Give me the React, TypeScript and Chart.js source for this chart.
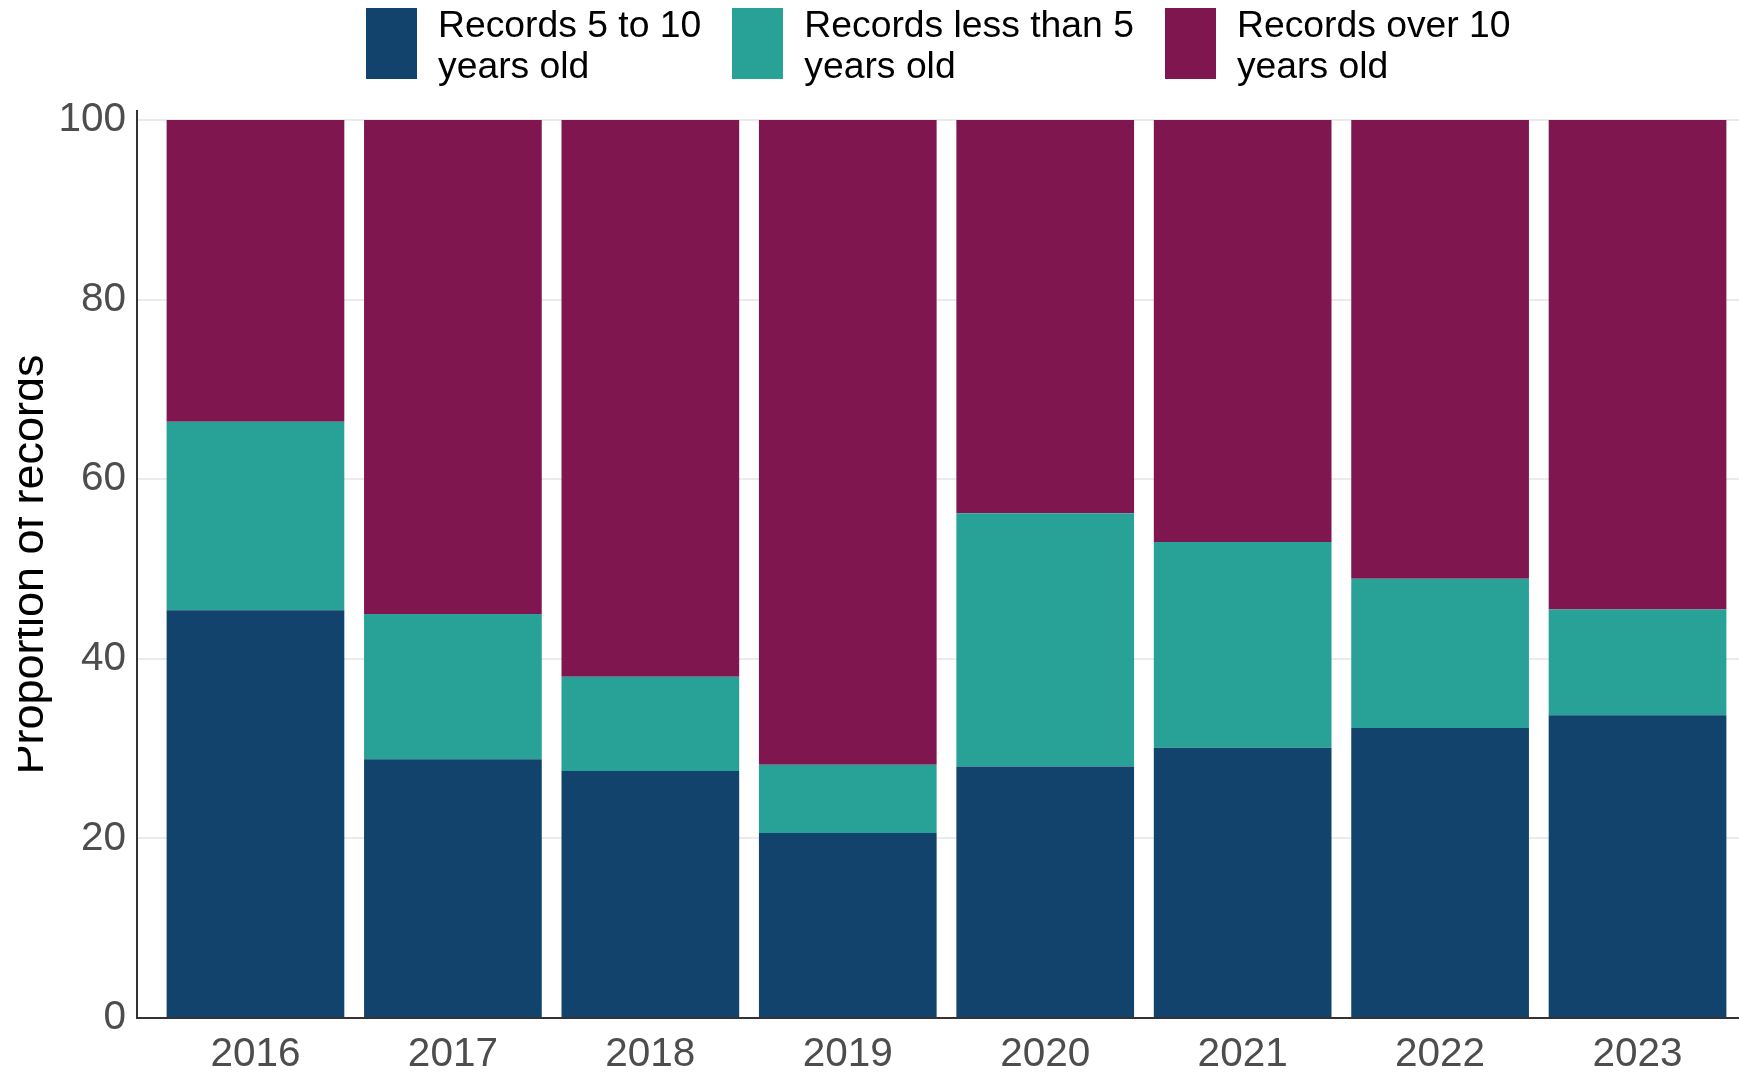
import React, { useEffect, useRef } from "react";
import { Chart, registerables } from "chart.js";

Chart.register(...registerables);

// ---- Data ----
const years = ["2016", "2017", "2018", "2019", "2020", "2021", "2022", "2023"];
const records5to10 = [45.4, 28.8, 27.5, 20.6, 28.0, 30.1, 32.3, 33.7];
const recordsUnder5 = [21.0, 16.2, 10.5, 7.6, 28.2, 22.9, 16.6, 11.8];
const recordsOver10 = [33.6, 55.0, 62.0, 71.8, 43.8, 47.0, 51.1, 54.5];
const yTickValues = [0, 20, 40, 60, 80, 100];

const seriesNames = ["Records 5 to 10 years old", "Records less than 5 years old", "Records over 10 years old"];
const seriesLegendLines = [
  ["Records 5 to 10", "years old"],
  ["Records less than 5", "years old"],
  ["Records over 10", "years old"],
];
const seriesColors = ["#12436D", "#28A197", "#801650"];
const seriesValues = [records5to10, recordsUnder5, recordsOver10];

const FONT = "'Liberation Sans', Arial, Helvetica, sans-serif";

export default function App() {
  const canvasRef = useRef<HTMLCanvasElement | null>(null);

  useEffect(() => {
    if (!canvasRef.current) return;
    const chart = new Chart(canvasRef.current, {
      type: "bar",
      data: {
        datasets: seriesValues.map((vals, si) => ({
          label: seriesNames[si],
          data: vals.map((v, i) => ({ x: i + 1, y: v })),
          backgroundColor: seriesColors[si],
          borderWidth: 0,
          categoryPercentage: 1,
          barPercentage: 0.9,
        })),
      },
      options: {
        animation: false,
        responsive: false,
        maintainAspectRatio: false,
        layout: { padding: { top: 111, right: 22, bottom: 0, left: 0 } },
        plugins: { legend: { display: false }, tooltip: { enabled: false } },
        scales: {
          x: {
            type: "linear",
            stacked: true,
            offset: false,
            min: 0.4,
            max: 8.6,
            afterBuildTicks: (s: any) => {
              s.ticks = years.map((_, i) => ({ value: i + 1 }));
            },
            afterFit: (s: any) => {
              s.height = 55;
            },
            grid: { display: false, drawTicks: false, offset: false },
            border: { display: true, color: "#333333", width: 2 },
            ticks: {
              color: "#4D4D4D",
              font: { family: FONT, size: 40.5 },
              padding: 13,
              autoSkip: false,
              maxRotation: 0,
              callback: (v: any) => years[Math.round(Number(v)) - 1] ?? "",
            },
          },
          y: {
            stacked: true,
            min: 0,
            max: 101,
            afterBuildTicks: (s: any) => {
              s.ticks = yTickValues.map((v) => ({ value: v }));
            },
            afterFit: (s: any) => {
              s.width = 119;
            },
            grid: { color: "#EBEBEB", lineWidth: 2, drawTicks: false },
            border: { display: true, color: "#333333", width: 2 },
            ticks: {
              color: "#4D4D4D",
              font: { family: FONT, size: 40.5 },
              padding: 11,
            },
            title: {
              display: true,
              text: "Proportion of records",
              color: "#000000",
              font: { family: FONT, size: 45 },
              padding: { top: -14, bottom: 0 },
            },
          },
        },
      },
    });
    return () => chart.destroy();
  }, []);

  return (
    <div
      style={{
        position: "fixed",
        left: 0,
        top: 0,
        width: "1739px",
        height: "1073px",
        overflow: "hidden",
        background: "#ffffff",
      }}
    >
      <canvas
        ref={canvasRef}
        width={1760}
        height={1073}
        style={{ position: "absolute", left: "18px", top: "0px", width: "1760px", height: "1073px" }}
      />
      <div
        style={{
          position: "absolute",
          left: "366px",
          top: "8px",
          display: "flex",
          flexDirection: "row",
          alignItems: "flex-start",
          gap: "31px",
          fontFamily: FONT,
          fontSize: "37.3px",
          lineHeight: "41px",
          color: "#000000",
          whiteSpace: "nowrap",
        }}
      >
        {seriesLegendLines.map((lines, i) => (
          <div key={i} style={{ display: "flex", flexDirection: "row", alignItems: "flex-start" }}>
            <div style={{ width: "51px", height: "71px", background: seriesColors[i], marginRight: "21px" }} />
            <div style={{ marginTop: "-4px" }}>
              {lines.map((ln, j) => (
                <div key={j}>{ln}</div>
              ))}
            </div>
          </div>
        ))}
      </div>
    </div>
  );
}
